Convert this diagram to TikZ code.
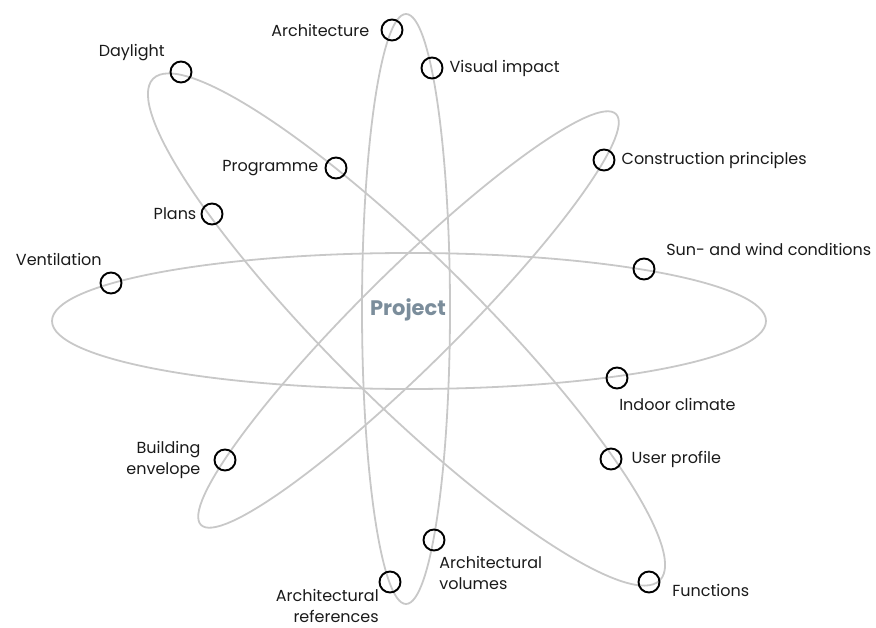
\documentclass[tikz,border=0pt]{standalone}
\usepackage{fontspec}
\setmainfont{Poppins}
\usetikzlibrary{positioning}

\definecolor{orbita}{HTML}{C8C8C8}
\definecolor{projeto}{HTML}{7B8D9B}
\definecolor{texto}{HTML}{1A1A1A}

\begin{document}
\begin{tikzpicture}[x=1pt, y=-1pt,
    orb/.style={draw=orbita, line width=1.8pt},
    ponto/.style={circle, draw=black, line width=1.9pt, minimum size=21pt, inner sep=0pt},
    rot/.style={inner sep=0pt, text=texto, font=\fontsize{16}{21}\selectfont}]
    \useasboundingbox (0,0) rectangle (876,628); % Moldura

    % Orbitas
    \draw[orb] (409,321) ellipse [x radius=357, y radius=68]; % Horizontal
    \draw[orb] (406,309) ellipse [x radius=44, y radius=295]; % Vertical
    \draw[orb, rotate around={-44.7:(406.5,329.5)}] (406.5,329.5) ellipse [x radius=356.5, y radius=73]; % Diagonal (descendo)
    \draw[orb, rotate around={44.7:(408.5,319.5)}] (408.5,319.5) ellipse [x radius=292, y radius=48]; % Diagonal (subindo)

    \node[text=projeto, font=\fontsize{21}{24}\selectfont\bfseries] (proj) at (408,310) {Project}; % Centro

    % Pontos nas orbitas
    \node[ponto] (arq) at (392,30) {};
    \node[ponto] (vis) at (432,68) {};
    \node[ponto] (dia) at (181,72) {};
    \node[ponto] (prog) at (336,168) {};
    \node[ponto] (cons) at (604,160) {};
    \node[ponto] (plan) at (212,214) {};
    \node[ponto] (vent) at (111,283) {};
    \node[ponto] (sol) at (644,269) {};
    \node[ponto] (clima) at (617,378) {};
    \node[ponto] (usu) at (611,459) {};
    \node[ponto] (env) at (225,460) {};
    \node[ponto] (vol) at (434,540) {};
    \node[ponto] (ref) at (390,582) {};
    \node[ponto] (fun) at (649,582) {};

    % Rotulos
    \node[rot, left=11pt of arq] (arqR) {Architecture};
    \node[rot, right=6pt of vis] (visR) {Visual impact};
    \node[rot, above left=3pt and 8pt of dia] (diaR) {Daylight};
    \node[rot, left=6pt of prog] (progR) {Programme};
    \node[rot, right=6pt of cons] (consR) {Construction principles};
    \node[rot, left=4pt of plan] (planR) {Plans};
    \node[rot, above left=9pt and 1pt of vent] (ventR) {Ventilation};
    \node[rot, above right=5pt and 14pt of sol] (solR) {Sun- and wind conditions};
    \node[rot, below right=12pt and -6pt of clima] (climaR) {Indoor climate};
    \node[rot, right=9pt of usu] (usuR) {User profile};
    \node[rot, align=right, left=13pt of env] (envR) {Building\\envelope};
    \node[rot, align=left, below right=8pt and -3pt of vol] (volR) {Architectural\\volumes};
    \node[rot, align=right, below left=-1pt and 3pt of ref] (refR) {Architectural\\references};
    \node[rot, below right=-6pt and 15pt of fun] (funR) {Functions};
\end{tikzpicture}
\end{document}
